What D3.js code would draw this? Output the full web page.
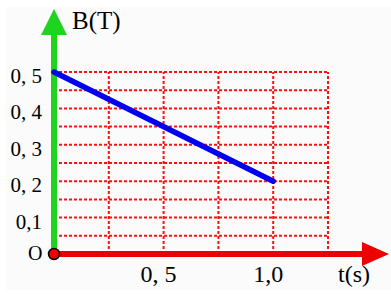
<!DOCTYPE html>
<html>
<head>
<meta charset="utf-8">
<script src="https://cdn.jsdelivr.net/npm/d3@7"></script>
<style>
  html, body { margin: 0; padding: 0; background: #fff; }
  svg { display: block; }
</style>
</head>
<body>
<svg id="chart" width="391" height="296"></svg>
<script>
// line B(t)
const tValues = [0, 1.0];
const bValues = [0.5, 0.2];

// grid
const gridT = [0.25, 0.5, 0.75, 1.0, 1.25];
const gridB = [0.05, 0.1, 0.15, 0.2, 0.25, 0.3, 0.35, 0.4, 0.45, 0.5];

// tick labels
const yTicks = [0.1, 0.2, 0.3, 0.4, 0.5];
const yTickLabels = ["0,1", "0, 2", "0, 3", "0, 4", "0, 5"];
const xTicks = [0.5, 1.0];
const xTickLabels = ["0, 5", "1,0"];

const serif = "'Liberation Serif', Tinos, 'Times New Roman', Times, 'DejaVu Serif', serif";

const svg = d3.select("#chart");

// faint grey page background
svg.append("rect")
    .attr("x", 6).attr("y", 7)
    .attr("width", 385).attr("height", 283)
    .attr("fill", "#fbfbfb");

let x = d3.scaleLinear().domain([0, 1.25]).range([54, 328]);
let y = d3.scaleLinear().domain([0, 0.5]).range([254, 72]);

const grid = svg.append("g")
    .attr("stroke", "#ff1010")
    .attr("stroke-width", 2)
    .attr("stroke-dasharray", "3,2");

grid.selectAll(".h")
    .data(gridB)
    .join("line")
    .attr("x1", x(0)).attr("x2", x(1.25) + 1)
    .attr("y1", d => y(d)).attr("y2", d => y(d));

grid.selectAll(".v")
    .data(gridT)
    .join("line")
    .attr("x1", d => x(d)).attr("x2", d => x(d))
    .attr("y1", y(0)).attr("y2", y(0.5));

// y axis (green arrow)
svg.append("line")
    .attr("x1", x(0)).attr("x2", x(0))
    .attr("y1", y(0)).attr("y2", 30)
    .attr("stroke", "#1fd41f")
    .attr("stroke-width", 6);
svg.append("path")
    .attr("d", `M${x(0)},9 L${x(0) - 13},35 L${x(0) + 13},35 Z`)
    .attr("fill", "#1fd41f");

// x axis (red arrow)
svg.append("line")
    .attr("x1", x(0)).attr("x2", 366)
    .attr("y1", y(0)).attr("y2", y(0))
    .attr("stroke", "#ee0000")
    .attr("stroke-width", 6);
svg.append("path")
    .attr("d", `M389,${y(0)} L362,${y(0) - 12} L362,${y(0) + 12} Z`)
    .attr("fill", "#ee0000");

// B(t) line
const pts = tValues.map((t, i) => [t, bValues[i]]);
svg.append("path")
    .datum(pts)
    .attr("d", d3.line().x(d => x(d[0])).y(d => y(d[1])))
    .attr("fill", "none")
    .attr("stroke", "#0000ee")
    .attr("stroke-width", 5.5)
    .attr("stroke-linecap", "round");

// origin dot
svg.append("circle")
    .attr("cx", x(0)).attr("cy", y(0))
    .attr("r", 5.5)
    .attr("fill", "#ee0000")
    .attr("stroke", "#000")
    .attr("stroke-width", 1.5);

// labels
const labels = svg.append("g")
    .attr("font-family", serif)
    .attr("fill", "#000");

labels.selectAll(".ylab")
    .data(yTicks)
    .join("text")
    .attr("x", 42)
    .attr("y", d => y(d) + 11)
    .attr("text-anchor", "end")
    .attr("font-size", 21)
    .text((d, i) => yTickLabels[i]);

labels.selectAll(".xlab")
    .data(xTicks)
    .join("text")
    .attr("x", d => x(d) - 5)
    .attr("y", 282)
    .attr("text-anchor", "middle")
    .attr("font-size", 24)
    .text((d, i) => xTickLabels[i]);

labels.append("text")
    .attr("x", 28).attr("y", 260)
    .attr("font-size", 20)
    .text("O");

labels.append("text")
    .attr("x", 338).attr("y", 282)
    .attr("font-size", 24)
    .text("t(s)");

labels.append("text")
    .attr("x", 72).attr("y", 29)
    .attr("font-size", 25)
    .text("B(T)");
</script>
</body>
</html>
